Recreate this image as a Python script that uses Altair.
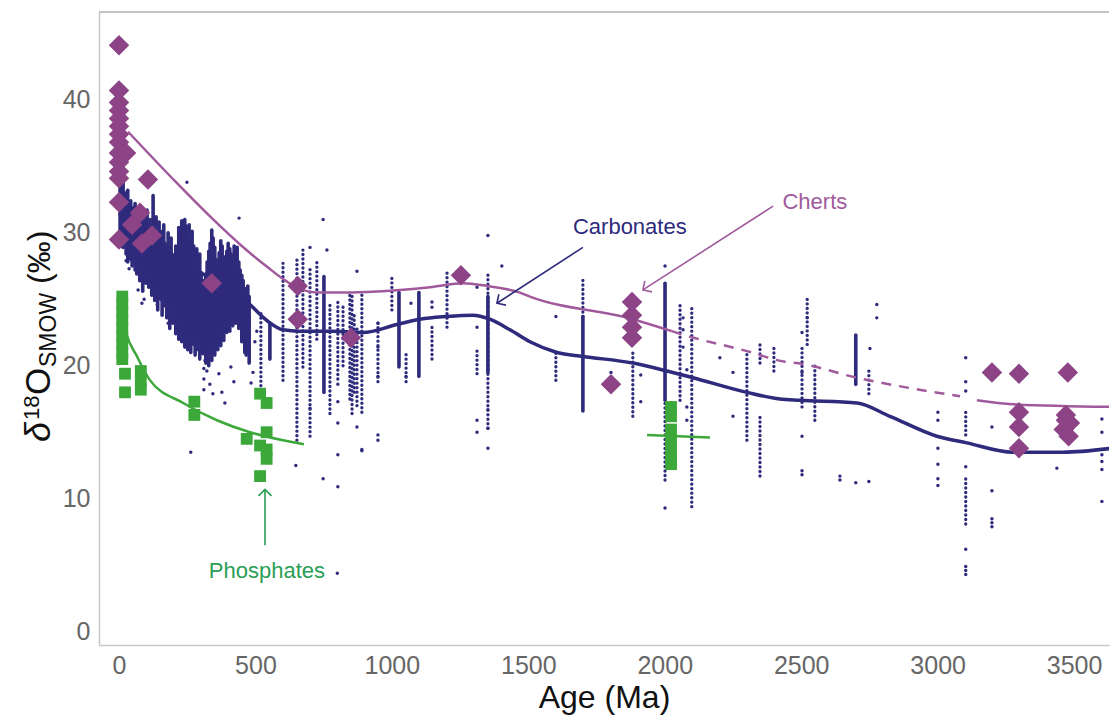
import altair as alt
import pandas as pd

# ---------------- data ----------------
# Carbonates: dense streaks (age, low, high)
DENSE_AGE = [4, 9, 15, 21, 26, 32, 37, 43, 48, 54, 59, 65, 70, 76, 81, 87, 92, 98, 103, 109, 114, 120,
             125, 131, 136, 142, 147, 153, 158, 164, 169, 175, 180, 186, 191, 197, 202, 208, 213, 219,
             224, 230, 235, 241, 246, 252, 257, 263, 268, 274, 279, 285, 290, 296, 301, 307, 312, 318,
             323, 329, 334, 340, 345, 351, 356, 362, 367, 373, 378, 384, 389, 395, 400, 406, 411, 417,
             422, 428, 433, 439, 444, 450, 455, 461, 466, 472, 477, 553, 751, 1026, 1099, 1352, 1700,
             2001, 2700]
DENSE_LO = [29.3, 29.0, 28.9, 29.5, 28.4, 27.8, 28.9, 28.0, 27.5, 28.5, 27.2, 26.9, 28.1, 26.4, 27.7,
            25.6, 27.0, 26.2, 27.5, 25.9, 26.8, 25.3, 26.4, 24.9, 25.6, 24.2, 26.1, 25.0, 23.8, 25.4,
            24.5, 23.6, 24.8, 22.8, 24.0, 23.2, 24.6, 22.4, 23.8, 22.0, 23.5, 21.8, 22.6, 21.4, 22.9,
            21.2, 22.2, 21.0, 22.5, 21.6, 20.8, 22.0, 21.2, 20.5, 21.8, 20.9, 21.5, 20.2, 21.0, 20.0,
            21.3, 20.4, 21.6, 20.8, 21.9, 21.2, 22.2, 21.5, 22.4, 21.9, 23.0, 22.5, 23.4, 22.6, 23.8,
            23.0, 24.0, 23.2, 24.2, 22.8, 23.6, 21.8, 22.4, 21.0, 20.8, 21.4, 20.2, 20.5, 18.0, 19.9,
            19.2, 19.5, 16.6, 17.4, 18.6]
DENSE_HI = [34.6, 34.2, 33.8, 33.0, 32.6, 33.2, 32.0, 32.4, 31.6, 31.9, 32.2, 31.0, 31.5, 32.0, 30.8,
            31.2, 31.4, 30.6, 31.7, 30.2, 31.0, 30.5, 32.8, 30.0, 31.2, 29.6, 30.8, 30.1, 29.4, 30.6,
            29.2, 28.8, 30.0, 28.4, 29.6, 28.2, 27.8, 29.0, 28.5, 30.4, 29.8, 30.9, 30.2, 31.0, 30.5,
            29.9, 30.6, 29.4, 30.1, 29.0, 28.2, 28.8, 27.6, 28.4, 27.0, 26.4, 25.8, 26.9, 27.8, 28.6,
            29.2, 30.2, 29.6, 28.9, 28.0, 27.4, 28.5, 29.4, 29.0, 28.2, 27.8, 28.6, 29.2, 28.8, 28.4,
            27.9, 29.0, 28.6, 28.9, 27.8, 27.2, 26.8, 26.4, 25.8, 25.4, 26.0, 25.2, 23.2, 26.7, 25.5,
            25.5, 25.2, 23.7, 26.2, 22.3]

# Carbonates: dotted columns (age, low, high)
COL_AGE = [520, 601, 652, 674, 700, 725, 773, 802, 821, 846, 854, 862, 872, 890, 949, 1000, 1052, 1147,
           1202, 1312, 1352, 1601, 1700, 1883, 2001, 2056, 2099, 2301, 2349, 2349, 2400, 2503, 2522,
           2550, 2748, 3103, 3103]
COL_LO = [18.5, 18.9, 14.4, 19.9, 14.7, 22.0, 16.4, 19.0, 20.0, 17.5, 16.4, 18.0, 17.0, 16.5, 18.8,
          24.2, 18.8, 20.5, 22.9, 19.4, 15.3, 18.9, 23.7, 16.2, 11.4, 17.4, 9.4, 14.4, 11.7, 20.2,
          19.6, 16.9, 21.6, 15.9, 17.9, 8.1, 14.8]
COL_HI = [24.0, 27.7, 28.0, 28.7, 27.5, 28.0, 24.7, 25.0, 24.5, 25.5, 25.5, 24.0, 23.0, 25.5, 23.2,
          26.7, 21.0, 23.1, 27.2, 21.1, 27.1, 21.0, 26.5, 21.0, 17.4, 24.6, 24.4, 21.1, 16.3, 21.6,
          21.4, 21.6, 25.0, 20.2, 19.9, 11.8, 16.8]

# Carbonates: single dots
PT_AGE = [249, 440, 748, 762, 700, 872, 263, 648, 748, 802, 802, 890, 800, 949, 949, 872, 802, 700,
          388, 311, 311, 311, 92, 70, 802, 802, 890, 949, 1052, 1312, 1312, 1312, 1312, 1070, 1147,
          1147, 1352, 1352, 1352, 1352, 1403, 949, 949,
          315, 322, 333, 344, 377, 366, 410, 421, 484, 491, 498, 505, 225, 180, 140, 160, 84, 37, 26,
          1601, 1601, 1803, 1912, 1912, 2001, 2001, 2067, 2067, 2067, 2081, 2081, 2081, 2202, 2250,
          2250, 2503, 2503, 2503, 2503, 2503, 2522, 2642, 2642, 2700, 2752, 2748, 2777, 2777, 3001,
          3001, 3001, 3001, 3001, 3001, 3103, 3103, 3103, 3103, 3103, 3103, 3103, 3103, 3199, 3199,
          3199, 3199, 3199, 3437, 3602, 3602, 3602, 3602, 3602, 3602]
PT_VAL = [33.8, 31.1, 31.0, 28.7, 28.9, 27.1, 13.5, 12.5, 11.5, 10.9, 13.3, 13.6, 4.4, 19.2, 14.8, 15.4,
          15.7, 16.8, 17.2, 19.8, 19.0, 18.2, 25.0, 25.7, 18.6, 17.3, 13.7, 14.4, 19.2, 15.9, 15.0,
          25.9, 22.9, 24.7, 24.8, 24.4, 29.8, 16.7, 15.3, 13.8, 27.5, 23.2, 21.4,
          20.4, 19.6, 18.6, 17.9, 18.0, 19.4, 19.9, 18.8, 18.7, 19.5, 21.8, 22.6, 22.0, 23.2, 24.6,
          25.2, 24.7, 27.3, 27.9,
          23.7, 21.0, 19.5, 19.3, 17.3, 27.5, 9.3, 23.6, 22.7, 21.4, 19.7, 16.9, 15.9, 20.6, 19.5,
          16.2, 22.5, 19.5, 14.7, 12.1, 11.8, 23.6, 11.7, 11.4, 11.2, 21.3, 11.3, 24.6, 23.6, 16.5,
          15.9, 13.8, 12.6, 11.5, 11.0, 20.6, 18.8, 18.1, 12.4, 6.2, 4.9, 4.6, 4.3, 15.4, 10.6,
          8.5, 8.2, 7.9, 12.3, 16.0, 15.0, 13.3, 12.8, 12.2, 9.8]

# Cherts (diamonds)
CH_AGE = [0, 0, 0, 0, 0, 0, 0, 0, 0, 0, 0, 0, 0, 0, 26, 106, 77, 48, 84, 121, 340, 655, 655, 850,
          1253, 1880, 1880, 1880, 1880, 1803, 3199, 3298, 3477, 3298, 3298, 3298, 3470, 3485, 3462,
          3480, 3470]
CH_VAL = [44.1, 40.7, 39.8, 39.2, 38.6, 38.0, 37.4, 36.8, 36.0, 35.3, 34.6, 34.1, 32.3, 29.5, 36.0,
          34.0, 31.5, 30.6, 29.2, 29.8, 26.2, 26.0, 23.5, 22.1, 26.8, 24.8, 23.8, 22.9, 22.1, 18.6,
          19.5, 19.4, 19.5, 16.5, 15.4, 13.8, 16.3, 15.7, 15.2, 14.7, 15.9]

# Phosphates (squares)
PH_AGE = [12, 12, 12, 12, 12, 12, 12, 12, 12, 22, 22, 80, 80, 80, 276, 276, 468, 517, 541, 541, 517,
          541, 541, 517, 2023, 2023, 2023, 2023, 2023, 2023, 2023]
PH_VAL = [25.2, 24.6, 24.0, 23.4, 22.8, 22.2, 21.6, 21.0, 20.5, 19.4, 18.0, 19.6, 18.9, 18.2, 17.3,
          16.3, 14.5, 17.9, 17.2, 15.0, 14.0, 13.7, 13.0, 11.7, 16.9, 16.2, 15.2, 14.5, 13.7, 13.0,
          12.6]

# Trend lines
CARB_AGE = [0, 100, 200, 300, 400, 469, 542, 601, 663, 784, 894, 1018, 1103, 1200, 1297, 1359, 1433,
            1506, 1605, 1700, 1883, 2008, 2103, 2301, 2422, 2495, 2704, 2825, 2997, 3107, 3276, 3459,
            3642]
CARB_VAL = [31.5, 29.8, 28.3, 27.0, 25.8, 24.8, 23.4, 22.7, 22.6, 22.6, 22.5, 23.1, 23.5, 23.7, 23.8,
            23.5, 22.7, 21.8, 21.0, 20.7, 20.2, 19.6, 19.1, 18.0, 17.5, 17.4, 17.2, 16.2, 14.7, 14.2,
            13.5, 13.5, 13.8]
CHT1_AGE = [33, 209, 345, 450, 545, 610, 660, 737, 800, 1030, 1140, 1261, 1348, 1469, 1506, 1883, 2026]
CHT1_VAL = [37.6, 33.8, 31.0, 29.0, 27.4, 26.4, 25.8, 25.5, 25.5, 25.7, 25.9, 26.2, 26.0, 25.5, 25.2,
            23.5, 22.6]
CHT2_AGE = [2026, 2056, 2301, 2440, 2484, 2704, 3082]
CHT2_VAL = [22.6, 22.4, 21.1, 20.3, 20.2, 19.1, 17.7]
CHT3_AGE = [3144, 3276, 3661]
CHT3_VAL = [17.4, 17.1, 16.9]
PHL_AGE = [5, 15, 26, 66, 114, 235, 359, 480, 601, 678]
PHL_VAL = [25.0, 23.5, 22.5, 20.7, 18.9, 17.2, 15.9, 15.0, 14.4, 14.1]
PHL2_AGE = [1935, 2166]
PHL2_VAL = [14.8, 14.6]

# Annotations
LABEL_TEXT = ["Carbonates", "Cherts", "Phosphates"]
LABEL_AGE = [1872, 2550, 542]
LABEL_VAL = [30.4, 32.3, 4.6]
ARROW_AGE0 = [1700, 2397, 535]
ARROW_VAL0 = [28.9, 32.0, 6.5]
ARROW_AGE1 = [1385, 1920, 535]
ARROW_VAL1 = [24.7, 25.7, 10.7]
ARROW_ANGLE = [237, 237, 0]

X_TICKS = [0, 500, 1000, 1500, 2000, 2500, 3000, 3500]
Y_TICKS = [0, 10, 20, 30, 40]

# ---------------- styling ----------------
NAVY = "#2E2A7C"
PURPLE = "#8C4486"
PURPLE_LINE = "#A05A9C"
GREEN = "#3DA83A"
W, H = 1010, 633
FONT = "Liberation Sans"

xscale = alt.Scale(domain=[-73.3, 3628], nice=False, zero=False)
yscale = alt.Scale(domain=[-1, 46.6], nice=False, zero=False)
xaxis = alt.Axis(values=X_TICKS, format="d", title="Age (Ma)", grid=False, ticks=False,
                 labelFontSize=25, labelColor="#666666", labelFont=FONT, labelPadding=8,
                 domainColor="#c8c8c8", domainWidth=1.5, titleFontSize=32, titleFont=FONT,
                 titleFontWeight="normal", titleColor="#111111", titlePadding=4)
yaxis = alt.Axis(values=Y_TICKS, format="d", title=None, grid=False, ticks=False, labelFontSize=25,
                 labelColor="#666666", labelFont=FONT, labelPadding=9, domainColor="#c8c8c8",
                 domainWidth=1.5)


def X(f="age"):
    return alt.X(f"{f}:Q", scale=xscale, axis=xaxis)


def Y(f="val"):
    return alt.Y(f"{f}:Q", scale=yscale, axis=yaxis)


dense = pd.DataFrame({"age": DENSE_AGE, "lo": DENSE_LO, "hi": DENSE_HI})
cols = pd.DataFrame({"age": COL_AGE, "lo": COL_LO, "hi": COL_HI})
pts = pd.DataFrame({"age": PT_AGE, "val": PT_VAL})
cherts = pd.DataFrame({"age": CH_AGE, "val": CH_VAL})
phos = pd.DataFrame({"age": PH_AGE, "val": PH_VAL})

layers = []
layers.append(alt.Chart(dense).mark_rule(color=NAVY, strokeWidth=3.6, strokeCap="round",
                                         clip=True).encode(x=X(), y=Y("lo"), y2="hi:Q"))
layers.append(alt.Chart(cols).mark_rule(color=NAVY, strokeWidth=3.3, strokeDash=[0.1, 4.4],
                                        strokeCap="round", clip=True).encode(
    x=X(), y=Y("lo"), y2="hi:Q"))
layers.append(alt.Chart(pts).mark_circle(color=NAVY, size=12, opacity=1, clip=True).encode(
    x=X(), y=Y()))

# trend lines
layers.append(alt.Chart(pd.DataFrame({"age": CARB_AGE, "val": CARB_VAL})).mark_line(
    color=NAVY, strokeWidth=3.5, interpolate="monotone", clip=True).encode(x=X(), y=Y()))
layers.append(alt.Chart(pd.DataFrame({"age": CHT1_AGE, "val": CHT1_VAL})).mark_line(
    color=PURPLE_LINE, strokeWidth=2.5, interpolate="monotone", clip=True).encode(x=X(), y=Y()))
layers.append(alt.Chart(pd.DataFrame({"age": CHT2_AGE, "val": CHT2_VAL})).mark_line(
    color=PURPLE_LINE, strokeWidth=2.5, strokeDash=[10, 8], interpolate="monotone",
    clip=True).encode(x=X(), y=Y()))
layers.append(alt.Chart(pd.DataFrame({"age": CHT3_AGE, "val": CHT3_VAL})).mark_line(
    color=PURPLE_LINE, strokeWidth=2.5, interpolate="monotone", clip=True).encode(x=X(), y=Y()))

# markers
layers.append(alt.Chart(cherts).mark_point(shape="diamond", filled=True, color=PURPLE, size=420,
                                           opacity=1, clip=True).encode(x=X(), y=Y()))
layers.append(alt.Chart(phos).mark_point(shape="square", filled=True, color=GREEN, size=140,
                                         opacity=1, clip=True).encode(x=X(), y=Y()))
layers.append(alt.Chart(pd.DataFrame({"age": PHL_AGE, "val": PHL_VAL})).mark_line(
    color=GREEN, strokeWidth=2.5, interpolate="monotone", clip=True).encode(x=X(), y=Y()))
layers.append(alt.Chart(pd.DataFrame({"age": PHL2_AGE, "val": PHL2_VAL})).mark_line(
    color=GREEN, strokeWidth=2.5, clip=True).encode(x=X(), y=Y()))

# annotations
lab = pd.DataFrame({"text": LABEL_TEXT, "age": LABEL_AGE, "val": LABEL_VAL,
                    "a0": ARROW_AGE0, "v0": ARROW_VAL0, "a1": ARROW_AGE1, "v1": ARROW_VAL1,
                    "ang": ARROW_ANGLE})
acolor = alt.Color("text:N", scale=alt.Scale(domain=LABEL_TEXT, range=[NAVY, PURPLE_LINE, "#2A9E55"]),
                   legend=None)
layers.append(alt.Chart(lab).mark_text(fontSize=22, font=FONT, align="center",
                                       baseline="middle").encode(
    x=X(), y=Y(), text="text:N", color=acolor))
layers.append(alt.Chart(lab).mark_rule(strokeWidth=1.6).encode(
    x=X("a0"), y=Y("v0"), x2="a1:Q", y2="v1:Q", color=acolor))
layers.append(alt.Chart(lab).mark_point(shape="M-1,1L0,0L1,1", filled=False, size=170,
                                        strokeWidth=1.6, opacity=1).encode(
    x=X("a1"), y=Y("v1"), angle=alt.Angle("ang:Q", scale=None), color=acolor))

# top border
one = pd.DataFrame({"k": [0]})
layers.append(alt.Chart(one).mark_rule(color="#8a8a8a", strokeWidth=1).encode(
    x=alt.value(0), x2=alt.value(W), y=alt.value(0)))


# y-axis title pieces: δ 18 O SMOW (‰)
def ytxt(t, px, py, size, style="normal"):
    return alt.Chart(one).mark_text(text=t, angle=270, align="left", baseline="alphabetic",
                                    fontSize=size, font=FONT, fontStyle=style,
                                    color="#111111").encode(x=alt.value(px), y=alt.value(py))


layers.append(ytxt("δ", -49, 430, 36, "italic"))
layers.append(ytxt("18", -60, 408, 22))
layers.append(ytxt("O", -49, 383, 35))
layers.append(ytxt("SMOW", -43, 355, 23))
layers.append(ytxt("(‰)", -49, 272, 32))

chart = alt.layer(*layers).properties(
    width=W, height=H,
    autosize=alt.AutoSizeParams(type="none"),
    padding={"left": 91, "top": 4, "right": 2, "bottom": 71},
).configure_view(strokeWidth=0)

chart.save("out.html", embed_options={"renderer": "svg", "actions": False})
